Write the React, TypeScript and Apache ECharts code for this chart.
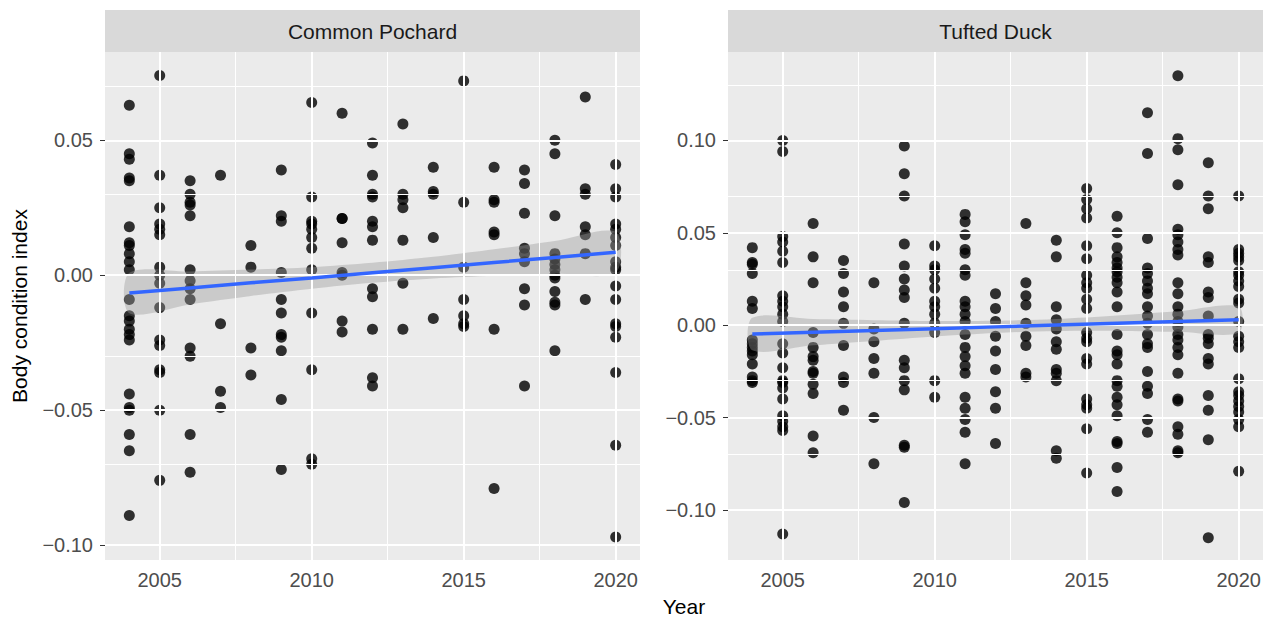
import React, { useEffect, useRef } from "react";
import * as echarts from "echarts";

const years = [2004, 2005, 2006, 2007, 2008, 2009, 2010, 2011, 2012, 2013, 2014, 2015, 2016, 2017, 2018, 2019, 2020];

const pochardValues: number[][] = [
  [0.063, 0.045, 0.043, 0.036, 0.035, 0.018, 0.012, 0.011, 0.008, 0.005, 0.002, -0.009, -0.015, -0.017, -0.020, -0.022, -0.024, -0.044, -0.049, -0.050, -0.059, -0.065, -0.089],
  [0.074, 0.037, 0.025, 0.019, 0.017, 0.015, 0.003, 0.000, -0.003, -0.012, -0.024, -0.026, -0.035, -0.036, -0.050, -0.076],
  [0.035, 0.030, 0.027, 0.026, 0.022, 0.002, -0.002, -0.005, -0.009, -0.027, -0.030, -0.059, -0.073],
  [0.037, -0.018, -0.043, -0.049],
  [0.011, 0.003, -0.027, -0.037],
  [0.039, 0.022, 0.020, 0.001, -0.009, -0.014, -0.022, -0.023, -0.028, -0.046, -0.072],
  [0.064, 0.029, 0.020, 0.019, 0.017, 0.014, 0.010, 0.002, -0.014, -0.035, -0.068, -0.070],
  [0.060, 0.021, 0.021, 0.012, 0.001, 0.000, -0.017, -0.021],
  [0.049, 0.037, 0.030, 0.029, 0.020, 0.018, 0.013, -0.005, -0.008, -0.020, -0.038, -0.041],
  [0.056, 0.030, 0.028, 0.025, 0.013, -0.003, -0.020],
  [0.040, 0.031, 0.030, 0.014, -0.016],
  [0.072, 0.027, 0.003, -0.009, -0.015, -0.018, -0.019],
  [0.040, 0.028, 0.027, 0.016, 0.015, -0.020, -0.079],
  [0.039, 0.034, 0.023, 0.010, 0.008, 0.005, -0.005, -0.011, -0.041],
  [0.050, 0.045, 0.022, 0.008, 0.006, 0.004, 0.002, 0.000, -0.001, -0.006, -0.010, -0.011, -0.028],
  [0.066, 0.032, 0.030, 0.018, 0.015, 0.008, -0.009],
  [0.041, 0.032, 0.029, 0.019, 0.017, 0.014, 0.011, 0.005, 0.003, 0.002, -0.004, -0.009, -0.018, -0.019, -0.023, -0.036, -0.063, -0.097],
];

const tuftedValues: number[][] = [
  [0.042, 0.034, 0.033, 0.028, 0.013, 0.009, -0.008, -0.010, -0.012, -0.014, -0.016, -0.021, -0.028, -0.030, -0.031],
  [0.100, 0.094, 0.048, 0.045, 0.040, 0.034, 0.016, 0.013, 0.010, 0.006, 0.002, -0.010, -0.015, -0.023, -0.030, -0.031, -0.034, -0.040, -0.049, -0.052, -0.055, -0.057, -0.113],
  [0.055, 0.037, 0.023, -0.004, -0.012, -0.017, -0.019, -0.025, -0.026, -0.032, -0.037, -0.060, -0.069],
  [0.035, 0.028, 0.018, 0.010, 0.001, -0.011, -0.028, -0.031, -0.046],
  [0.023, -0.002, -0.009, -0.018, -0.026, -0.050, -0.075],
  [0.097, 0.082, 0.070, 0.044, 0.032, 0.025, 0.019, 0.015, 0.001, -0.019, -0.023, -0.030, -0.035, -0.065, -0.066, -0.096],
  [0.043, 0.032, 0.030, 0.025, 0.020, 0.013, 0.010, 0.006, 0.001, -0.004, -0.030, -0.039],
  [0.060, 0.056, 0.049, 0.041, 0.039, 0.030, 0.027, 0.013, 0.010, 0.006, 0.002, -0.005, -0.012, -0.017, -0.022, -0.026, -0.039, -0.045, -0.051, -0.058, -0.075],
  [0.017, 0.009, 0.002, -0.006, -0.014, -0.024, -0.036, -0.045, -0.064],
  [0.055, 0.023, 0.016, 0.011, 0.001, -0.006, -0.011, -0.026, -0.028],
  [0.046, 0.037, 0.010, 0.003, -0.002, -0.009, -0.013, -0.024, -0.026, -0.030, -0.068, -0.072],
  [0.074, 0.068, 0.063, 0.058, 0.043, 0.036, 0.027, 0.023, 0.020, 0.014, 0.009, -0.004, -0.007, -0.009, -0.018, -0.021, -0.040, -0.043, -0.045, -0.056, -0.080],
  [0.059, 0.050, 0.042, 0.037, 0.034, 0.031, 0.029, 0.026, 0.023, 0.018, 0.010, -0.005, -0.014, -0.016, -0.021, -0.030, -0.033, -0.039, -0.043, -0.049, -0.063, -0.064, -0.077, -0.090],
  [0.115, 0.093, 0.047, 0.031, 0.028, 0.024, 0.020, 0.017, 0.010, 0.005, 0.001, -0.005, -0.010, -0.012, -0.025, -0.033, -0.037, -0.051, -0.058],
  [0.135, 0.101, 0.095, 0.076, 0.052, 0.049, 0.045, 0.041, 0.038, 0.023, 0.017, 0.010, 0.006, 0.002, -0.001, -0.005, -0.008, -0.012, -0.016, -0.026, -0.040, -0.041, -0.055, -0.059, -0.068, -0.069],
  [0.088, 0.070, 0.063, 0.037, 0.034, 0.018, 0.015, 0.005, -0.005, -0.007, -0.010, -0.018, -0.021, -0.038, -0.046, -0.062, -0.115],
  [0.070, 0.041, 0.039, 0.037, 0.035, 0.029, 0.027, 0.024, 0.021, 0.014, 0.012, 0.002, -0.006, -0.009, -0.012, -0.029, -0.036, -0.038, -0.041, -0.044, -0.047, -0.051, -0.055, -0.079],
];

// Fitted line (geom_smooth, lm) and its confidence band
const bandYears = [2004, 2006, 2008, 2010, 2012, 2014, 2016, 2018, 2020];
const pochardFit = [-0.0066, -0.0047, -0.0028, -0.0010, 0.0009, 0.0028, 0.0047, 0.0066, 0.0085];
const pochardLower = [-0.0141, -0.0108, -0.0077, -0.0050, -0.0028, -0.0012, -0.0002, 0.0005, 0.0010];
const pochardUpper = [0.0009, 0.0014, 0.0021, 0.0030, 0.0046, 0.0068, 0.0096, 0.0127, 0.0160];
const tuftedFit = [-0.0048, -0.0038, -0.0029, -0.0019, -0.0009, 0.0001, 0.0011, 0.0020, 0.0030];
const tuftedLower = [-0.0136, -0.0109, -0.0085, -0.0061, -0.0042, -0.0032, -0.0031, -0.0036, -0.0041];
const tuftedUpper = [0.0040, 0.0033, 0.0027, 0.0023, 0.0024, 0.0034, 0.0053, 0.0076, 0.0101];

const panelTitles = ["Common Pochard", "Tufted Duck"];
const xMajor = [2005, 2010, 2015, 2020];
const xMinor = [2007.5, 2012.5, 2017.5];
const pochardYMajor = [-0.1, -0.05, 0, 0.05];
const pochardYMinor = [-0.075, -0.025, 0.025, 0.075];
const tuftedYMajor = [-0.1, -0.05, 0, 0.05, 0.1];
const tuftedYMinor = [-0.125, -0.075, -0.025, 0.025, 0.075, 0.125];
const pochardYRange = [-0.1055, 0.0827];
const tuftedYRange = [-0.1271, 0.1479];
const xRange = [2003.2, 2020.8];

const FONT = '"Liberation Sans", Arial, Helvetica, sans-serif';

function fmtY(v: number): string {
  const s = Math.abs(v).toFixed(2);
  return v < 0 ? "\u2212" + s : s;
}

function toPoints(vals: number[][]) {
  const out: number[][] = [];
  years.forEach((y, i) => vals[i].forEach((v) => out.push([y, v])));
  return out;
}

export default function App() {
  const ref = useRef<HTMLDivElement>(null);
  useEffect(() => {
    if (!ref.current) return;
    const chart = echarts.init(ref.current, undefined, { renderer: "svg" });

    const panels = [
      { left: 105, vals: pochardValues, yRange: pochardYRange, yMajor: pochardYMajor, yMinor: pochardYMinor, fit: pochardFit, lower: pochardLower, upper: pochardUpper },
      { left: 728, vals: tuftedValues, yRange: tuftedYRange, yMajor: tuftedYMajor, yMinor: tuftedYMinor, fit: tuftedFit, lower: tuftedLower, upper: tuftedUpper },
    ];
    const W = 535;
    const TOP = 52;
    const H = 508;

    const grid: any[] = [];
    const xAxis: any[] = [];
    const yAxis: any[] = [];
    const series: any[] = [];
    const graphic: any[] = [];

    panels.forEach((p, k) => {
      grid.push({ left: p.left, top: TOP, width: W, height: H, show: true, backgroundColor: "#EBEBEB", borderWidth: 0, containLabel: false });
      xAxis.push({
        type: "value", gridIndex: k, min: xRange[0], max: xRange[1],
        splitLine: { show: false }, axisLine: { show: false },
        axisTick: { show: true, customValues: xMajor, length: 5, lineStyle: { color: "#333333", width: 1 } },
        axisLabel: { customValues: xMajor, formatter: (v: number) => String(v), color: "#4D4D4D", fontSize: 20, margin: 10, fontFamily: FONT },
      });
      yAxis.push({
        type: "value", gridIndex: k, min: p.yRange[0], max: p.yRange[1],
        splitLine: { show: false }, axisLine: { show: false },
        axisTick: { show: true, customValues: p.yMajor, length: 5, lineStyle: { color: "#333333", width: 1 } },
        axisLabel: { customValues: p.yMajor, formatter: (v: number) => fmtY(v), color: "#4D4D4D", fontSize: 20, margin: 12, fontFamily: FONT },
      });

      const gl: any[] = [];
      xMinor.forEach((v) => gl.push({ xAxis: v, lineStyle: { color: "#FFFFFF", width: 1, type: "solid" } }));
      p.yMinor.forEach((v) => gl.push({ yAxis: v, lineStyle: { color: "#FFFFFF", width: 1, type: "solid" } }));
      xMajor.forEach((v) => gl.push({ xAxis: v, lineStyle: { color: "#FFFFFF", width: 2, type: "solid" } }));
      p.yMajor.forEach((v) => gl.push({ yAxis: v, lineStyle: { color: "#FFFFFF", width: 2, type: "solid" } }));

      series.push({
        type: "line", xAxisIndex: k, yAxisIndex: k, z: 1, silent: true,
        data: [[2012, 0]], showSymbol: false, symbol: "none", lineStyle: { opacity: 0 },
        markLine: { silent: true, symbol: ["none", "none"], label: { show: false }, emphasis: { disabled: true }, animation: false, data: gl },
      });

      series.push({
        type: "scatter", xAxisIndex: k, yAxisIndex: k, z: 3, silent: true,
        data: toPoints(p.vals), symbolSize: 11,
        itemStyle: { color: "rgba(0,0,0,0.8)", opacity: 1 },
      });

      series.push({
        type: "custom", xAxisIndex: k, yAxisIndex: k, z: 4, silent: true,
        data: [[2012, 0]],
        encode: { x: 0, y: 1 },
        renderItem: (params: any, api: any) => {
          const pts: number[][] = [];
          bandYears.forEach((yr, i) => pts.push(api.coord([yr, p.upper[i]])));
          for (let i = bandYears.length - 1; i >= 0; i--) pts.push(api.coord([bandYears[i], p.lower[i]]));
          return { type: "polygon", shape: { points: pts, smooth: 0.3 }, style: { fill: "rgba(153,153,153,0.4)", stroke: "none" } };
        },
      });

      series.push({
        type: "line", xAxisIndex: k, yAxisIndex: k, z: 5, silent: true,
        data: bandYears.map((yr, i) => [yr, p.fit[i]]),
        showSymbol: false, symbol: "none",
        lineStyle: { color: "#3366FF", width: 3.5 },
      });

      graphic.push({ type: "rect", shape: { x: p.left, y: 10, width: W, height: 42 }, style: { fill: "#D9D9D9" }, silent: true });
      graphic.push({
        type: "text", x: p.left + W / 2, y: 31,
        style: { text: panelTitles[k], fill: "#1A1A1A", font: `21px ${FONT}`, textAlign: "center", textVerticalAlign: "middle" },
        silent: true,
      });
    });

    graphic.push({
      type: "text", x: 19, y: 306, rotation: Math.PI / 2,
      style: { text: "Body condition index", fill: "#000000", font: `21px ${FONT}`, textAlign: "center", textVerticalAlign: "middle" },
      silent: true,
    });
    graphic.push({
      type: "text", x: 684, y: 606,
      style: { text: "Year", fill: "#000000", font: `21px ${FONT}`, textAlign: "center", textVerticalAlign: "middle" },
      silent: true,
    });

    chart.setOption({
      animation: false,
      backgroundColor: "#FFFFFF",
      textStyle: { fontFamily: FONT },
      grid, xAxis, yAxis, series, graphic,
    });
    return () => chart.dispose();
  }, []);
  return <div ref={ref} style={{ position: "fixed", left: 0, top: 0, width: 1271, height: 619 }} />;
}
